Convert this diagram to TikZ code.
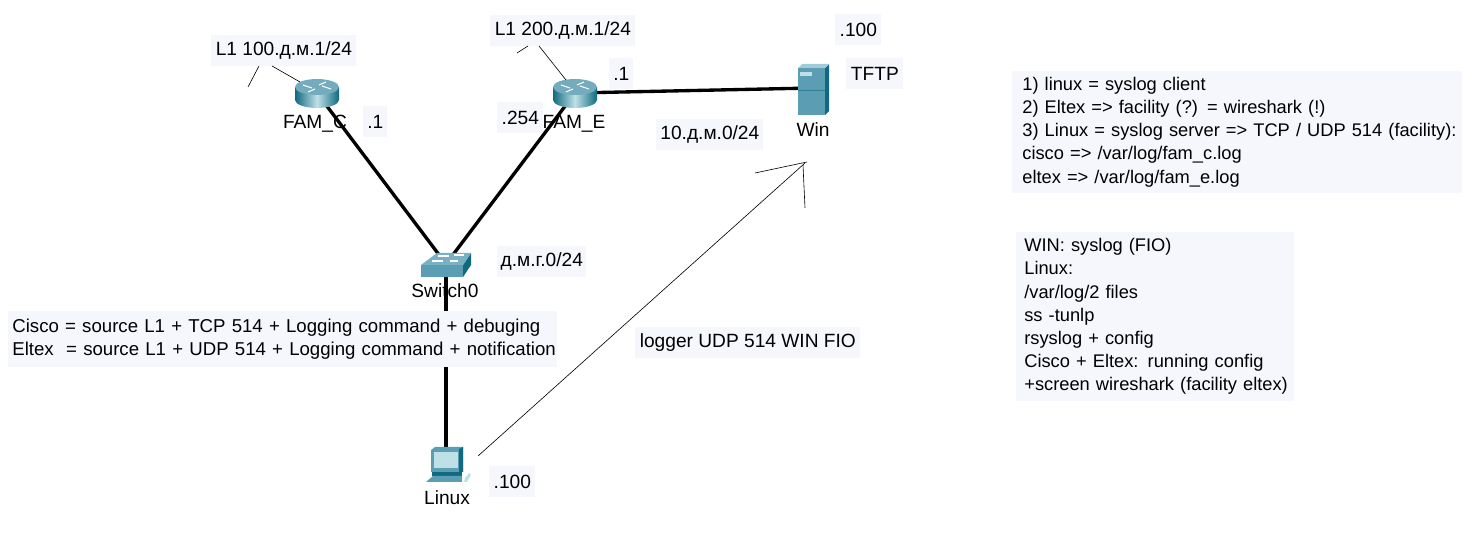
\documentclass[tikz,border=0pt]{standalone}
\usepackage{fontspec}
\setmainfont{Liberation Sans}
\usepackage{tikz}
\usetikzlibrary{positioning,calc}
\definecolor{boxbg}{HTML}{F5F7FD}
\definecolor{teal1}{HTML}{5B9DB3}
\definecolor{teal2}{HTML}{0F6A80}
\definecolor{teal3}{HTML}{BFE0E6}
\tikzset{
    wire/.style={line width=1.9pt,black},
    thinline/.style={line width=0.35pt,black},
    notebox/.style={fill=boxbg,inner sep=0pt,font=\fontsize{10.9}{13.2}\selectfont,align=left,anchor=west},
    devlabel/.style={font=\fontsize{10.9}{13.2}\selectfont,inner sep=0pt},
    routericon/.pic={
        \path[left color=teal2,right color=teal2,middle color=teal3] (-22,-6) -- (-22,7) arc[start angle=180,end angle=0,x radius=22,y radius=8] -- (22,-6) -- cycle;
        \path[fill=teal1!85!white] (0,-6) ellipse[x radius=22,y radius=8];
        \draw[white,line width=0.6pt] (-14,-8) -- (-5,-5) (14,-4) -- (5,-7) (-9,-1) -- (-2,-4) (9,-11) -- (2,-8);
    },
    servericon/.pic={
        \fill[teal1] (-15,-20) rectangle (12,27);
        \fill[teal2] (12,-20) -- (16,-24) -- (16,23) -- (12,27) -- cycle;
        \fill[teal3!70!teal1] (-15,-20) -- (-11,-24) -- (16,-24) -- (12,-20) -- cycle;
        \fill[teal3] (-13,-16) rectangle (-1,-12);
        \draw[teal2!60!teal1,line width=0.3pt] (-15,2) -- (12,2);
    },
    switchicon/.pic={
        \fill[teal1] (-25,1) rectangle (17,13);
        \fill[teal2] (17,1) -- (25,-11) -- (25,1) -- (17,13) -- cycle;
        \fill[teal1!70!teal3] (-25,1) -- (-9,-11) -- (25,-11) -- (17,1) -- cycle;
        \draw[white,line width=0.6pt] (-8,-8) -- (3,-8) (8,-9) -- (18,-9) (-14,-3) -- (-3,-3) (4,-3) -- (12,-3);
    },
    pcicon/.pic={
        \fill[teal1] (-15,-16) -- (-11,-19) -- (17,-19) -- (17,6) -- (-15,6) -- cycle;
        \fill[teal2] (13,-17) -- (17,-19) -- (17,6) -- (13,6) -- cycle;
        \fill[teal3] (-12,-14) rectangle (12,2);
        \fill[teal2] (-14,6) rectangle (16,10);
        \fill[teal1] (-20,16) -- (-13,10) -- (16,10) -- (16,16) -- cycle;
        \fill[teal3] (19,12) -- (23,7) -- (25,9) -- (21,16) -- (18,16) -- cycle;
    },
}
\begin{document}
\begin{tikzpicture}[x=0.02cm,y=-0.02cm]
    \useasboundingbox (0,0) rectangle (1475,550);
    \coordinate (famc) at (317,93);
    \coordinate (fame) at (575,93);
    \coordinate (win) at (813,88);
    \coordinate (switch) at (446,264);
    \coordinate (linux) at (446,466);
    \node[devlabel] (famclabel) at (315,124) {FAM\_C};
    \node[devlabel] (famelabel) at (574,124) {FAM\_E};
    \node[devlabel] (winlabel) at (813,130) {Win};
    \node[devlabel] (switchlabel) at (445,291) {Switch0};
    \node[devlabel] (linuxlabel) at (447,498) {Linux};
    \draw[wire] (famc) -- (switch);
    \draw[wire] (fame) -- (switch);
    \draw[wire] (fame) -- (win);
    \draw[wire] (switch) -- (linux);
    \pic at (famc) {routericon};
    \pic at (fame) {routericon};
    \pic at (win) {servericon};
    \pic at (switch) {switchicon};
    \pic at (linux) {pcicon};
    \node[notebox,minimum width=145*0.02cm,minimum height=31*0.02cm,align=center] (lonec) at (211,50.5) {L1 100.д.м.1/24};
    \node[notebox,minimum width=145*0.02cm,minimum height=31*0.02cm,align=center] (lonee) at (490,30.5) {L1 200.д.м.1/24};
    \node[notebox,minimum width=24*0.02cm,minimum height=31*0.02cm,align=center] (dotc) at (363,121.5) {.1};
    \node[notebox,minimum width=46*0.02cm,minimum height=31*0.02cm,align=center] (dotfe) at (497,117.5) {.254};
    \node[notebox,minimum width=24*0.02cm,minimum height=31*0.02cm,align=center] (dote) at (609,73.5) {.1};
    \node[notebox,minimum width=46*0.02cm,minimum height=31*0.02cm,align=center] (dotwin) at (835,29.5) {.100};
    \node[notebox,minimum width=57*0.02cm,minimum height=31*0.02cm,align=center] (tftp) at (846,73.5) {TFTP};
    \node[notebox,minimum width=107*0.02cm,minimum height=31*0.02cm,align=center] (wan) at (656,134.5) {10.д.м.0/24};
    \node[notebox,minimum width=89*0.02cm,minimum height=31*0.02cm,align=center] (lan) at (497,261.5) {д.м.г.0/24};
    \node[notebox,minimum width=46*0.02cm,minimum height=31*0.02cm,align=center] (dotlinux) at (489,481.5) {.100};
    \node[notebox,minimum width=225*0.02cm,minimum height=31*0.02cm,align=center] (logger) at (635,342.5) {logger UDP 514 WIN FIO};
    \node[notebox,font=\fontsize{10.6}{13.2}\selectfont,text width=541*0.02cm,inner xsep=2.3pt,minimum height=56*0.02cm] (srcnote) at (8,339.5) {Cisco = source L1 + TCP 514 + Logging command + debuging\\\mbox{Eltex\ \ = source L1 + UDP 514 + Logging command + notification}};
    \node[notebox,font=\fontsize{10.4}{13.2}\selectfont,text width=430*0.02cm,inner xsep=5.7pt,minimum height=122*0.02cm] (tasknote) at (1012,132) {1) linux = syslog client\\2) Eltex => facility (?) = wireshark (!)\\\mbox{3) Linux = syslog server => TCP / UDP 514 (facility):}\\cisco => /var/log/fam\_c.log\\eltex => /var/log/fam\_e.log};
    \node[notebox,font=\fontsize{10.4}{13.2}\selectfont,text width=262*0.02cm,inner xsep=4.55pt,minimum height=169*0.02cm] (reportnote) at (1016,316.5) {WIN: syslog (FIO)\\Linux:\\/var/log/2 files\\ss -tunlp\\rsyslog + config\\Cisco + Eltex: running config\\\mbox{+screen wireshark (facility eltex)}};
    \coordinate (arrowstart) at (478,456);
    \coordinate (arrowtip) at (805,163);
    \coordinate (headleft) at (755,173);
    \coordinate (headright) at (805,208);
    \draw[thinline] (arrowstart) -- (arrowtip);
    \draw[thinline] (headleft) -- (807,162);
    \draw[thinline] (headright) -- (803,165);
    \draw[thinline] (300,82) -- (272,66);
    \draw[thinline] (259,66) -- (248,87);
    \draw[thinline] (566,80) -- (539,46);
    \draw[thinline] (528,46) -- (517,53);
\end{tikzpicture}
\end{document}
